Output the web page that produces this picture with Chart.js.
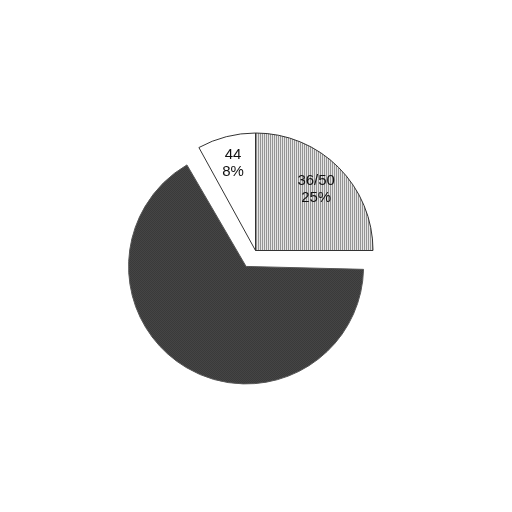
<!DOCTYPE html>
<html>
<head>
<meta charset="utf-8">
<script src="https://cdn.jsdelivr.net/npm/chart.js@4/dist/chart.umd.min.js"></script>
<style>
html,body{margin:0;padding:0;background:#fff;}
#wrap{width:512px;height:512px;}
</style>
</head>
<body>
<div id="wrap"><canvas id="c" width="512" height="512"></canvas></div>
<script>
const categories = ['36/50', '', '44'];
const values = [25, 67, 8];
const percentLabels = ['25%', '', '8%'];

function stripePattern() {
  const cv = document.createElement('canvas');
  cv.width = 2; cv.height = 2;
  const g = cv.getContext('2d');
  g.fillStyle = '#e4e4e4'; g.fillRect(0, 0, 2, 2);
  g.fillStyle = '#949494'; g.fillRect(0, 0, 1, 2);
  return g.createPattern(cv, 'repeat');
}
function darkPattern() {
  const cv = document.createElement('canvas');
  cv.width = 2; cv.height = 2;
  const g = cv.getContext('2d');
  g.fillStyle = '#262626'; g.fillRect(0, 0, 2, 2);
  g.fillStyle = '#5a5a5a'; g.fillRect(0, 0, 1, 1); g.fillRect(1, 1, 1, 1);
  return g.createPattern(cv, 'repeat');
}

// keep exploded slices at the same radius as the others
const explodeFix = {
  id: 'explodeFix',
  afterDatasetUpdate(chart, args) {
    const meta = chart.getDatasetMeta(args.index);
    meta.data.forEach(arc => {
      const off = (arc.options && arc.options.offset) || 0;
      if (off) arc.outerRadius = Math.max(arc.outerRadius - off / 4, 0);
    });
  }
};

const labelRatios = [0.73, 0.75, 0.77];
const labelPlugin = {
  id: 'sliceLabels',
  afterDatasetsDraw(chart) {
    const ctx = chart.ctx;
    const meta = chart.getDatasetMeta(0);
    ctx.save();
    ctx.font = '15px "Liberation Sans", Arial, sans-serif';
    ctx.fillStyle = '#111';
    ctx.textAlign = 'center';
    ctx.textBaseline = 'middle';
    meta.data.forEach((arc, i) => {
      if (!categories[i]) return;
      const p = arc.getProps(['x', 'y', 'startAngle', 'endAngle', 'outerRadius']);
      const mid = (p.startAngle + p.endAngle) / 2;
      const r = p.outerRadius * labelRatios[i];
      const x = p.x + Math.cos(mid) * r;
      const y = p.y + Math.sin(mid) * r;
      ctx.fillText(categories[i], x, y - 8.5);
      ctx.fillText(percentLabels[i], x, y + 8.5);
    });
    ctx.restore();
  }
};

new Chart(document.getElementById('c'), {
  type: 'pie',
  data: {
    labels: categories,
    datasets: [{
      data: values,
      backgroundColor: [stripePattern(), darkPattern(), '#ffffff'],
      borderColor: ['#333333', '#555555', '#333333'],
      borderWidth: 1,
      offset: [0, 74, 0]
    }]
  },
  options: {
    responsive: false,
    animation: false,
    radius: 117.5,
    layout: { padding: { top: 0, bottom: 11, left: 0, right: 1 } },
    plugins: { legend: { display: false }, tooltip: { enabled: false } }
  },
  plugins: [explodeFix, labelPlugin]
});
</script>
</body>
</html>
